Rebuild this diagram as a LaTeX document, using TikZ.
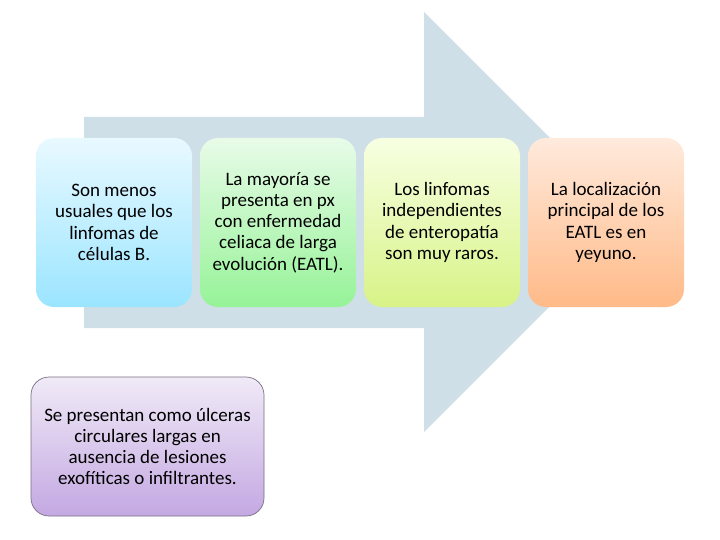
\documentclass[tikz,border=0pt]{standalone}
\usepackage{fontspec}
\setmainfont{Carlito}
\begin{document}
\begin{tikzpicture}[x=1pt,y=-1pt,
  card/.style={rounded corners=18pt, align=center, font=\fontsize{19}{21.3}\selectfont, text=black},
]
\useasboundingbox (0,0) rectangle (720,540);
% arrow
\fill[fill={rgb,255:red,207;green,223;blue,232}] (84,117) -- (424,117) -- (424,12) -- (634,222) -- (424,432) -- (424,328) -- (84,328) -- cycle;
% cards
\shade[rounded corners=18pt, top color={rgb,255:red,232;green,249;blue,255}, bottom color={rgb,255:red,155;green,229;blue,255}] (36,138) rectangle (192,307);
\node[card] (c1) at (114,222.5) {Son menos\\usuales que los\\linfomas de\\células B.};
\shade[rounded corners=18pt, top color={rgb,255:red,232;green,251;blue,232}, bottom color={rgb,255:red,150;green,243;blue,152}] (200,138) rectangle (356,307);
\node[card] (c2) at (278,222.5) {La mayoría se\\presenta en px\\con enfermedad\\celiaca de larga\\evolución (EATL).};
\shade[rounded corners=18pt, top color={rgb,255:red,247;green,255;blue,226}, bottom color={rgb,255:red,216;green,243;blue,135}] (364,138) rectangle (520,307);
\node[card] (c3) at (442,222.5) {Los linfomas\\independientes\\de enteropatía\\son muy raros.};
\shade[rounded corners=18pt, top color={rgb,255:red,255;green,234;blue,220}, bottom color={rgb,255:red,255;green,186;blue,136}] (528,138) rectangle (684,307);
\node[card] (c4) at (606,222.5) {La localización\\principal de los\\EATL es en\\yeyuno.};
\shade[rounded corners=18pt, top color={rgb,255:red,240;green,234;blue,247}, bottom color={rgb,255:red,196;green,168;blue,226}] (31,377) rectangle (264,516);
\draw[rounded corners=18pt, draw={rgb,255:red,120;green,110;blue,130}, line width=0.7pt] (31,377) rectangle (264,516);
\node[card] (c5) at (147.5,446.5) {Se presentan como úlceras\\circulares largas en\\ausencia de lesiones\\exofíticas o infiltrantes.};
\end{tikzpicture}
\end{document}
